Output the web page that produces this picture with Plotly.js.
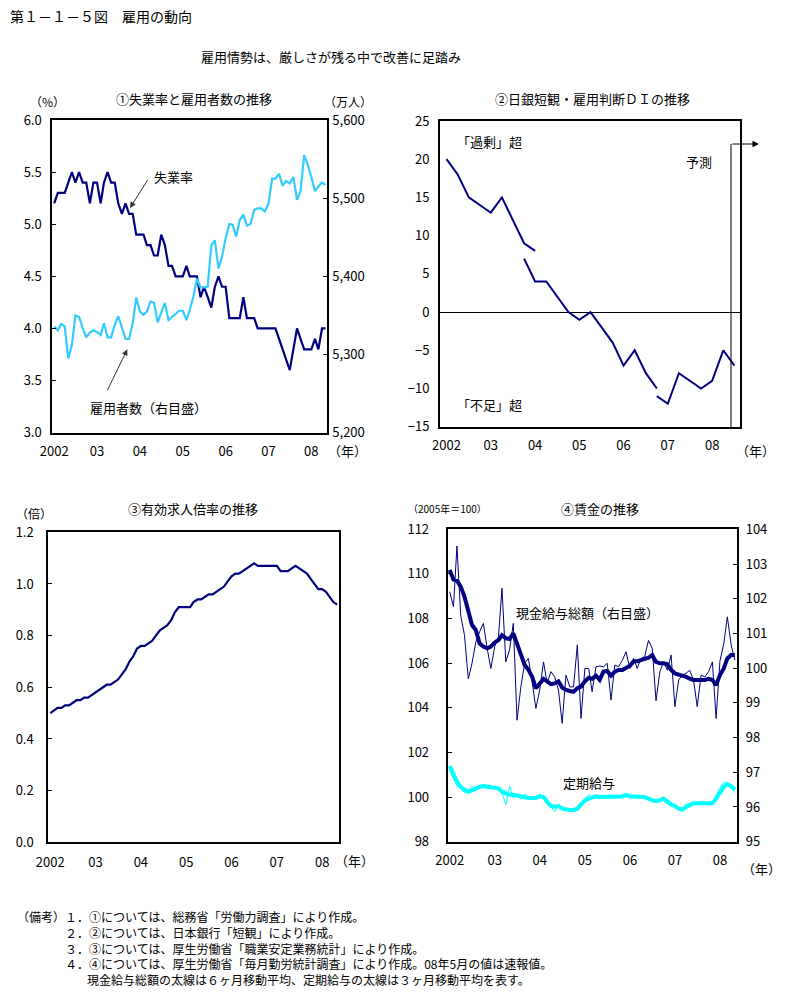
<!DOCTYPE html>
<html><head><meta charset="utf-8">
<script src="https://cdn.plot.ly/plotly-3.0.1.min.js"></script>
<style>html,body{margin:0;padding:0;background:#fff}#chart{width:803px;height:1001px}</style>
</head><body><div id="chart"></div>
<script>
// ---------- categories ----------
function monthList(y, m, n) {
  const a = [];
  for (let k = 0; k < n; k++) {
    const yy = y + Math.floor((m - 1 + k) / 12), mm = (m - 1 + k) % 12 + 1;
    a.push(yy + '-' + String(mm).padStart(2, '0') + '-01');
  }
  return a;
}
const months = monthList(2002, 1, 77); // 2002-01 .. 2008-05
const yearTickVals = ['2002-01-01','2003-01-01','2004-01-01','2005-01-01','2006-01-01','2007-01-01','2008-01-01'];
const yearTickText = ['2002','03','04','05','06','07','08'];
const diTickVals = ['2002-03-01','2003-03-01','2004-03-01','2005-03-01','2006-03-01','2007-03-01','2008-03-01'];

// ---------- ① unemployment rate (%) and employees (10k persons) ----------
const unemploymentRate = [
  5.2,5.3,5.3,5.3,5.4,5.5,5.4,5.5,5.4,5.4,5.2,5.4,
  5.4,5.2,5.4,5.5,5.4,5.4,5.2,5.1,5.2,5.1,5.1,4.9,
  4.9,4.9,4.8,4.8,4.7,4.7,4.9,4.8,4.6,4.6,4.5,4.5,
  4.5,4.6,4.5,4.5,4.5,4.3,4.4,4.3,4.2,4.4,4.5,4.4,
  4.4,4.1,4.1,4.1,4.1,4.3,4.1,4.1,4.1,4.0,4.0,4.0,
  4.0,4.0,4.0,3.9,3.8,3.7,3.6,3.8,4.0,3.9,3.8,3.8,
  3.8,3.9,3.8,4.0,4.0];
const employees = [
  5336,5331,5339,5336,5295,5312,5350,5348,5334,5322,5328,5331,
  5329,5325,5340,5322,5322,5338,5349,5335,5320,5320,5340,5373,
  5355,5351,5355,5368,5366,5341,5354,5366,5344,5348,5352,5356,
  5356,5344,5357,5374,5397,5386,5386,5387,5440,5446,5410,5425,
  5449,5467,5466,5451,5472,5479,5465,5467,5485,5487,5487,5483,
  5493,5525,5525,5531,5516,5522,5519,5527,5498,5509,5555,5543,
  5527,5509,5515,5520,5517];

// ---------- ② Tankan employment conditions DI (quarterly, three series) ----------
const diDatesA = ['2002-03-01','2002-06-01','2002-09-01','2002-12-01','2003-03-01','2003-06-01','2003-09-01','2003-12-01','2004-03-01'];
const diA = [20,18,15,14,13,15,12,9,8];
const diDatesB = ['2003-12-01','2004-03-01','2004-06-01','2004-09-01','2004-12-01','2005-03-01','2005-06-01','2005-09-01','2005-12-01','2006-03-01','2006-06-01','2006-09-01','2006-12-01'];
const diB = [7,4,4,2,0,-1,0,-2,-4,-7,-5,-8,-10];
const diDatesC = ['2006-12-01','2007-03-01','2007-06-01','2007-09-01','2007-12-01','2008-03-01','2008-06-01','2008-09-01'];
const diC = [-11,-12,-8,-9,-10,-9,-5,-7];

// ---------- ③ jobs-to-applicants ratio ----------
const jobsRatio = [
  0.50,0.51,0.52,0.52,0.53,0.53,0.54,0.55,0.55,0.56,0.56,0.57,
  0.58,0.59,0.60,0.61,0.61,0.62,0.63,0.65,0.67,0.70,0.72,0.75,
  0.76,0.76,0.77,0.78,0.80,0.82,0.83,0.84,0.86,0.89,0.91,0.91,
  0.91,0.91,0.93,0.94,0.94,0.95,0.96,0.96,0.97,0.98,0.99,1.01,
  1.03,1.04,1.04,1.05,1.06,1.07,1.08,1.07,1.07,1.07,1.07,1.07,
  1.07,1.05,1.05,1.05,1.06,1.07,1.06,1.05,1.04,1.02,1.00,0.98,
  0.98,0.97,0.95,0.93,0.92];

// ---------- ④ wages (2005=100) ----------
const totalCash = [
  102.20,101.77,103.52,101.50,100.95,99.69,100.14,100.75,101.05,101.29,100.57,99.99,
  100.62,100.91,102.30,100.18,100.52,101.29,98.50,99.46,100.14,100.28,99.60,98.84,
  99.37,100.18,99.56,99.90,99.75,99.37,98.41,99.80,99.46,99.46,100.67,98.55,
  99.99,99.99,99.32,100.04,100.06,100.04,100.14,99.08,100.09,100.04,100.23,100.47,
  99.99,100.28,99.99,100.28,100.33,100.80,100.57,99.06,99.90,100.18,99.94,100.38,
  98.89,99.66,99.80,99.85,99.94,99.66,98.89,99.80,99.75,99.90,100.18,98.55,
  100.20,100.70,101.48,100.67,100.23];
const totalCashMA6 = [
  102.83,102.55,102.52,102.35,102.06,101.67,101.24,101.10,100.71,100.62,100.57,100.62,
  100.74,100.81,100.95,100.86,100.84,101.00,100.71,100.38,100.09,99.95,99.75,99.42,
  99.56,99.69,99.62,99.54,99.56,99.62,99.44,99.37,99.34,99.32,99.42,99.47,
  99.62,99.72,99.69,99.78,99.66,99.90,99.92,99.78,99.90,99.95,99.95,100.02,
  100.07,100.20,100.20,100.23,100.26,100.30,100.38,100.18,100.14,100.14,100.11,99.95,
  99.85,99.82,99.78,99.75,99.70,99.66,99.66,99.66,99.66,99.69,99.66,99.51,
  99.80,99.99,100.28,100.38,100.38];
const scheduled = [
  101.20,100.80,100.50,100.40,100.20,100.30,100.50,100.35,100.50,100.45,100.40,100.35,
  100.45,100.35,100.20,99.66,100.49,99.95,100.10,99.90,100.15,99.90,100.00,99.90,
  100.15,99.95,99.80,99.55,99.35,99.60,99.50,99.40,99.40,99.45,99.40,99.60,
  99.90,100.10,99.95,100.05,100.00,100.00,100.05,99.95,100.00,100.05,100.10,100.15,
  100.00,100.05,100.00,100.05,100.00,99.95,99.85,99.75,99.95,99.90,99.70,99.70,
  99.60,99.45,99.40,99.70,99.65,99.75,99.70,99.70,99.75,99.70,99.75,100.10,
  100.40,100.67,100.55,100.40,100.20];
const scheduledMA3 = [
  101.39,101.06,100.69,100.46,100.32,100.24,100.32,100.39,100.46,100.49,100.46,100.43,
  100.42,100.39,100.24,100.15,100.10,100.10,100.06,100.03,99.96,99.96,99.96,99.96,
  100.03,100.00,99.79,99.60,99.57,99.60,99.48,99.44,99.42,99.42,99.48,99.67,
  99.85,99.93,100.00,100.03,100.00,100.00,100.00,100.00,100.03,100.00,100.03,100.10,
  100.03,100.03,100.03,100.03,100.00,99.93,99.85,99.82,99.85,99.93,99.79,99.67,
  99.60,99.48,99.44,99.57,99.64,99.72,99.72,99.72,99.72,99.72,99.72,99.93,
  100.24,100.46,100.58,100.49,100.32];

// ---------- layout helpers ----------
const W = 803, H = 1001;
const JP = '"Noto Sans CJK JP", "Noto Sans", sans-serif';
const NAVY = '#000080', SKY = '#33CCFF', AQUA = '#00FFFF';
const px = x => x / W, py = y => 1 - y / H;
const xdom = (a, b) => [px(a), px(b)];
const ydom = (top, bot) => [py(bot), py(top)];
const tf = {family: JP, size: 13, color: '#000'};
const monthRange = ['2001-12-16', '2008-05-16'];

function xAxis(domain, anchor, range, tickvals, standoff) {
  return {domain, anchor, type: 'date', range, tickvals, ticktext: yearTickText,
    showgrid: false, zeroline: false, showline: true, mirror: true, linecolor: '#000', linewidth: 2,
    ticks: '', tickfont: tf, ticklabelstandoff: standoff, fixedrange: true};
}
function yAxis(domain, anchor, range, dtick, fmt, extra) {
  return Object.assign({domain, anchor, range, dtick, tickformat: fmt, showgrid: false, zeroline: false,
    showline: true, mirror: true, linecolor: '#000', linewidth: 2,
    ticks: 'inside', ticklen: 4, tickwidth: 1, tickcolor: '#000', tickfont: tf, fixedrange: true}, extra || {});
}
function yRight(overlay, range, dtick, fmt, extra) {
  return Object.assign({overlaying: overlay, side: 'right', range, dtick, tickformat: fmt,
    showgrid: false, zeroline: false, showline: false,
    ticks: 'inside', ticklen: 4, tickwidth: 1, tickcolor: '#000', tickfont: tf, fixedrange: true}, extra || {});
}

const traces = [
  {x: months, y: unemploymentRate, xaxis: 'x', yaxis: 'y', mode: 'lines', line: {color: NAVY, width: 2.2}},
  {x: months, y: employees, xaxis: 'x', yaxis: 'y2', mode: 'lines', line: {color: SKY, width: 2.2}},
  {x: diDatesA, y: diA, xaxis: 'x2', yaxis: 'y3', mode: 'lines', line: {color: NAVY, width: 2}},
  {x: diDatesB, y: diB, xaxis: 'x2', yaxis: 'y3', mode: 'lines', line: {color: NAVY, width: 2}},
  {x: diDatesC, y: diC, xaxis: 'x2', yaxis: 'y3', mode: 'lines', line: {color: NAVY, width: 2}},
  {x: months, y: jobsRatio, xaxis: 'x3', yaxis: 'y4', mode: 'lines', line: {color: NAVY, width: 2.2}},
  {x: months, y: scheduled, xaxis: 'x4', yaxis: 'y5', mode: 'lines', line: {color: AQUA, width: 1}},
  {x: months, y: scheduledMA3, xaxis: 'x4', yaxis: 'y5', mode: 'lines', line: {color: AQUA, width: 4}},
  {x: months, y: totalCash, xaxis: 'x4', yaxis: 'y6', mode: 'lines', line: {color: NAVY, width: 1}},
  {x: months, y: totalCashMA6, xaxis: 'x4', yaxis: 'y6', mode: 'lines', line: {color: NAVY, width: 4}}
];

function txt(text, x, y, opts) {
  return Object.assign({text, xref: 'paper', yref: 'paper', x: px(x), y: py(y), showarrow: false,
    xanchor: 'center', yanchor: 'middle', font: {family: JP, size: 13, color: '#000'}}, opts || {});
}
function arrow(hx, hy, tx, ty, color) {
  return {text: '', xref: 'paper', yref: 'paper', x: px(hx), y: py(hy), ax: tx - hx, ay: ty - hy,
    showarrow: true, arrowhead: 2, arrowsize: 1.2, arrowwidth: 1, arrowcolor: color || '#333'};
}
const small = {family: JP, size: 12, color: '#000'};
const unitFont = {family: JP, size: 12, color: '#000'};

const annotations = [
  txt('第１－１－５図　雇用の動向', 8, 16, {xanchor: 'left', font: {family: JP, size: 14, color: '#000'}}),
  txt('雇用情勢は、厳しさが残る中で改善に足踏み', 199, 57, {xanchor: 'left'}),
  txt('①失業率と雇用者数の推移', 194, 98),
  txt('②日銀短観・雇用判断ＤＩの推移', 592, 98),
  txt('③有効求人倍率の推移', 193, 508),
  txt('④賃金の推移', 600, 508),
  txt('（%）', 47, 102, {font: unitFont}),
  txt('（万人）', 348, 102, {font: unitFont}),
  txt('（倍）', 34, 513, {font: unitFont}),
  txt('（2005年＝100）', 447, 508, {font: {family: JP, size: 10, color: '#000'}}),
  txt('（年）', 347, 451),
  txt('（年）', 755, 450),
  txt('（年）', 354, 860),
  txt('（年）', 761, 868),
  txt('失業率', 173, 176),
  arrow(130, 208, 148.7, 178.3),
  txt('雇用者数（右目盛）', 148, 408),
  arrow(127.3, 349.3, 106.7, 391.7),
  txt('「過剰」超', 455, 141, {xanchor: 'left'}),
  txt('「不足」超', 455, 405, {xanchor: 'left'}),
  txt('予測', 699, 162),
  {text: '', xref: 'paper', yref: 'paper', x: px(759), y: py(144), ax: -28, ay: 0,
   showarrow: true, arrowhead: 2, arrowsize: 1.3, arrowwidth: 1, arrowcolor: '#000'},
  txt('現金給与総額（右目盛）', 587, 612),
  txt('定期給与', 589, 782),
  txt('（備考）１．①については、総務省「労働力調査」により作成。', 15, 916, {xanchor: 'left', font: small}),
  txt('２．②については、日本銀行「短観」により作成。', 63, 932, {xanchor: 'left', font: small}),
  txt('３．③については、厚生労働省「職業安定業務統計」により作成。', 63, 948, {xanchor: 'left', font: small}),
  txt('４．④については、厚生労働省「毎月勤労統計調査」により作成。08年5月の値は速報値。', 63, 963, {xanchor: 'left', font: small}),
  txt('現金給与総額の太線は６ヶ月移動平均、定期給与の太線は３ヶ月移動平均を表す。', 85, 979, {xanchor: 'left', font: small})
];

const shapes = [
  {type: 'line', xref: 'paper', yref: 'paper', x0: px(731), x1: px(731), y0: py(144), y1: py(427),
   line: {color: '#000', width: 1}}
];

const layout = {
  width: W, height: H, autosize: false, showlegend: false,
  margin: {l: 0, r: 0, t: 0, b: 0, pad: 0},
  paper_bgcolor: '#fff', plot_bgcolor: 'rgba(0,0,0,0)',
  font: {family: JP, color: '#000'},
  xaxis: xAxis(xdom(52.3, 327.3), 'y', monthRange, yearTickVals, 6),
  yaxis: yAxis(ydom(120, 432.7), 'x', [3, 6], 0.5, '.1f', {ticklabelstandoff: 6}),
  yaxis2: yRight('y', [5200, 5600], 100, ',', {anchor: 'x', ticklabelstandoff: 4}),
  xaxis2: xAxis(xdom(440, 740), 'y3', ['2002-01-06', '2008-10-17'], diTickVals, 6),
  yaxis3: yAxis(ydom(121, 426.7), 'x2', [-15, 25], 5, 'd',
    {ticks: '', zeroline: true, zerolinecolor: '#000', zerolinewidth: 1, ticklabelstandoff: 6}),
  xaxis3: xAxis(xdom(48.3, 339), 'y4', monthRange, yearTickVals, 7),
  yaxis4: yAxis(ydom(532.3, 842.3), 'x3', [0, 1.2], 0.2, '.1f', {ticklabelstandoff: 10}),
  xaxis4: xAxis(xdom(447.7, 736.7), 'y5', monthRange, yearTickVals, 6),
  yaxis5: yAxis(ydom(529.3, 841.7), 'x4', [98, 112], 2, 'd', {ticklabelstandoff: 14}),
  yaxis6: yRight('y5', [95, 104], 1, 'd', {anchor: 'x4', ticklabelstandoff: 8}),
  annotations, shapes
};

Plotly.newPlot('chart', traces, layout, {displayModeBar: false, staticPlot: true});
</script>
</body></html>
